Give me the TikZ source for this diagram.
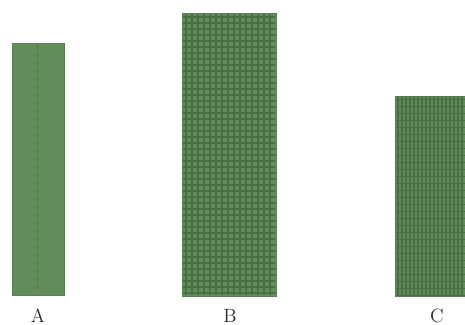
\documentclass[tikz,border=0pt]{standalone}
\usepackage{tikz}

\begin{document}
\begin{tikzpicture}[x=0.75pt,y=0.75pt,yscale=-1,xscale=1]
\tikzset{
  leaf/.style={draw={rgb, 255:red, 88; green, 128; blue, 82 },fill={rgb, 255:red, 98; green, 140; blue, 90 },line width=0.6},
  grid line/.style={draw={rgb, 255:red, 74; green, 110; blue, 68 },line width=0.8},
  tag/.style={font=\Large,text={rgb, 255:red, 40; green, 40; blue, 40 }}
}
\useasboundingbox (0,0) rectangle (465,325);

%Shape: Rectangle A
\draw [leaf] (12,43) rectangle (64,295);
\draw [grid line,dashed,line width=0.5] (37.5,45) -- (37.5,293);

%Shape: Rectangle B
\draw [leaf] (182,13) rectangle (276,296);
\foreach \x in {186,192,...,274} {\draw [grid line] (\x,14) -- (\x,295);}
\foreach \y in {17,23,...,295} {\draw [grid line] (183,\y) -- (275,\y);}

%Shape: Rectangle C
\draw [leaf] (395,96) rectangle (470,296);
\foreach \x in {398,402,...,466} {\draw [grid line] (\x,97) -- (\x,295);}
\foreach \y in {99,106,...,295} {\draw [grid line,line width=0.5] (396,\y) -- (466,\y);}

% Text Node
\node [tag] (labA) at (38,316) {A};
% Text Node
\node [tag] (labB) at (230,316) {B};
% Text Node
\node [tag] (labC) at (437,316) {C};

\end{tikzpicture}
\end{document}
